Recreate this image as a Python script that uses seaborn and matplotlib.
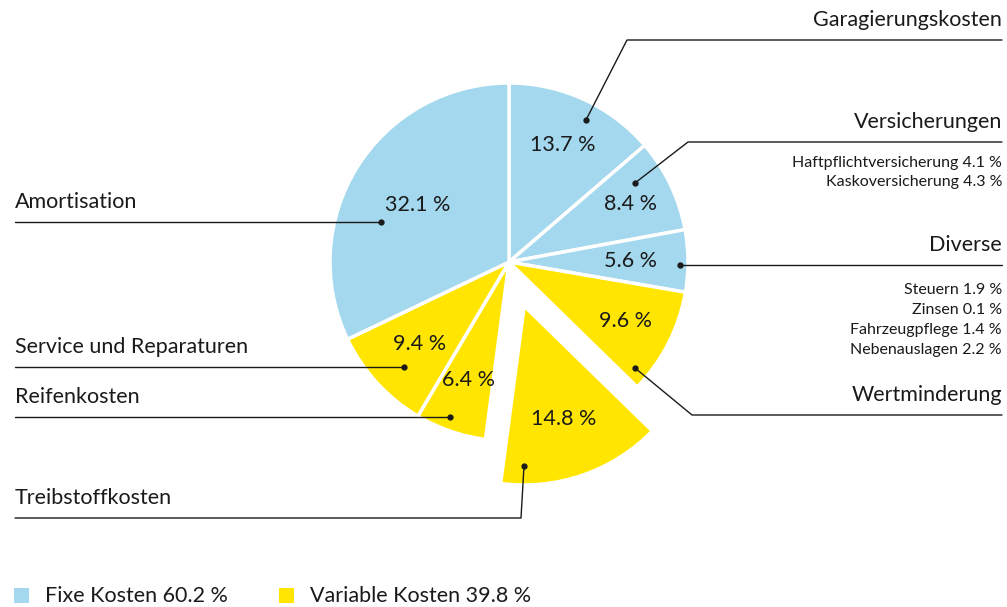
import numpy as np
import matplotlib
matplotlib.use("Agg")
import matplotlib.pyplot as plt
import seaborn as sns

sns.set_theme(style="white")
plt.rcParams['font.family'] = ['Lato', 'DejaVu Sans']

# data
kategorien = ['Garagierungskosten', 'Versicherungen', 'Diverse', 'Wertminderung',
              'Treibstoffkosten', 'Reifenkosten', 'Service und Reparaturen', 'Amortisation']
anteile = [13.7, 8.4, 5.6, 9.6, 14.8, 6.4, 9.4, 32.1]
gruppe = ['fix', 'fix', 'fix', 'var', 'var', 'var', 'var', 'fix']
versicherung_details = ['Haftpflichtversicherung 4.1 %', 'Kaskoversicherung 4.3 %']
diverse_details = ['Steuern 1.9 %', 'Zinsen 0.1 %', 'Fahrzeugpflege 1.4 %', 'Nebenauslagen 2.2 %']
legende = ['Fixe Kosten 60.2 %', 'Variable Kosten 39.8 %']

blau = '#a3d8ee'
gelb = '#ffe500'
txt = '#1a1a1a'
farben = [blau if g == 'fix' else gelb for g in gruppe]

fig = plt.figure(figsize=(10.07, 6.07), dpi=100)
ax = fig.add_axes([0, 0, 1, 1])
ax.set_aspect('equal')
ax.axis('off')

cx, cy, r = 509, 262, 179
# matplotlib offsets exploded wedges in data units, not radius fractions
explode = [0.26 * r if k == 'Treibstoffkosten' else 0 for k in kategorien]
wedges, _ = ax.pie(anteile, colors=farben, explode=explode, startangle=-90,
                   counterclock=True, center=(cx, cy), radius=r,
                   wedgeprops=dict(edgecolor='white', linewidth=2.5))
ax.set_xlim(0, 1007)
ax.set_ylim(607, 0)

# percentage labels inside the wedges
pct_dist = [0.72, 0.75, 0.68, 0.73, 0.67, 0.70, 0.68, 0.60]
for w, v, d in zip(wedges, anteile, pct_dist):
    mid = np.deg2rad((w.theta1 + w.theta2) / 2)
    x = w.center[0] + d * r * np.cos(mid)
    y = w.center[1] + d * r * np.sin(mid)
    ax.text(x, y, f'{v} %', ha='center', va='center', fontsize=15.5,
            color=txt)

# leader lines: dot, elbow, end of horizontal line
leader = {
    'Garagierungskosten': [(586, 120), (627, 40), (1002, 40)],
    'Versicherungen': [(635, 183), (688, 142), (1002, 142)],
    'Diverse': [(680, 265), (680, 265), (1002, 265)],
    'Wertminderung': [(635, 368), (692, 415), (1002, 415)],
    'Treibstoffkosten': [(524, 466), (521, 518), (15, 518)],
    'Reifenkosten': [(450, 417), (450, 417), (15, 417)],
    'Service und Reparaturen': [(404, 367), (404, 367), (15, 367)],
    'Amortisation': [(381, 222), (381, 222), (15, 222)],
}
for name, pts in leader.items():
    xs, ys = zip(*pts)
    ax.plot(xs, ys, color=txt, lw=1)
    ax.plot(*pts[0], marker='o', ms=3.5, color=txt)
    right = pts[2][0] > cx
    ax.text(pts[2][0], pts[2][1] - 10, name, ha='right' if right else 'left',
            va='bottom', fontsize=15.5, color=txt)

for i, s in enumerate(versicherung_details):
    ax.text(1002, 163 + i * 19, s, ha='right', va='center', fontsize=11.5,
            color=txt)
for i, s in enumerate(diverse_details):
    ax.text(1002, 290 + i * 20, s, ha='right', va='center', fontsize=11.5,
            color=txt)

# legend
for (lx, farbe, label) in [(14, blau, legende[0]), (279, gelb, legende[1])]:
    ax.add_patch(plt.Rectangle((lx, 588), 15, 15, color=farbe, lw=0))
    ax.text(lx + 31, 596, label, ha='left', va='center', fontsize=15.5,
            color=txt)

fig.savefig('out.png', dpi=100)
